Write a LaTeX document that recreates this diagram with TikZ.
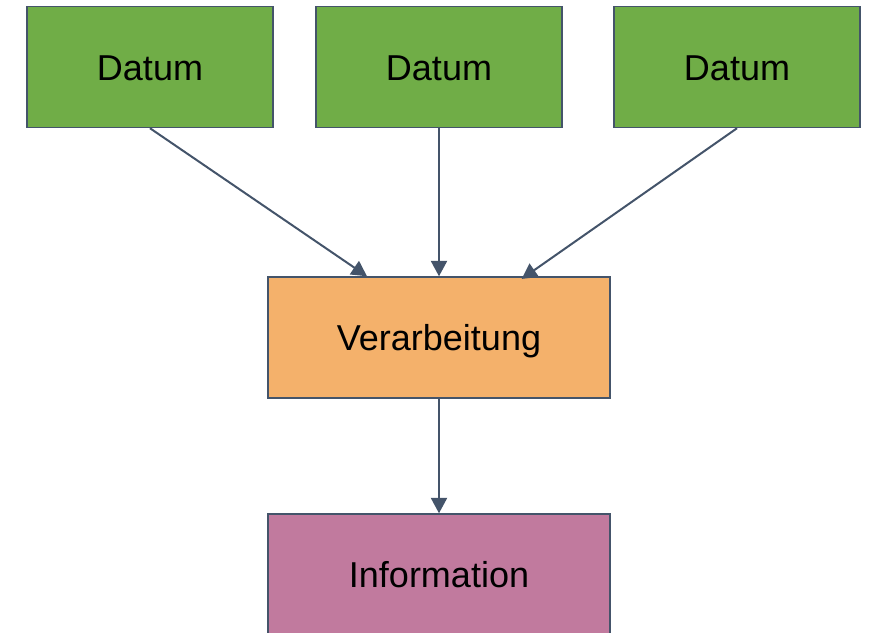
\documentclass[tikz,border=0pt]{standalone}
\usepackage{fontspec}
\setmainfont{Liberation Sans}
\usetikzlibrary{arrows.meta}
\definecolor{edgecol}{HTML}{44546A}
\definecolor{datagreen}{HTML}{70AD47}
\definecolor{procorange}{HTML}{F4B16B}
\definecolor{infopink}{HTML}{C17A9E}
\tikzset{
  box/.style={draw=edgecol, line width=1.1pt, minimum width=184.5pt, minimum height=90.75pt, inner sep=0pt, text height=19.5pt, text depth=0pt, font=\fontsize{27}{32}\selectfont, text=black},
  wide/.style={minimum width=256.5pt},
  conn/.style={draw=edgecol, line width=1.5pt, -{Triangle[length=11.5pt,width=12pt]}}
}
\begin{document}
\begin{tikzpicture}[x=0.75pt,y=-0.75pt]
\useasboundingbox (0,0) rectangle (871,632);
\begin{scope}
\clip (0,0) rectangle (871,632);
\node[box, fill=datagreen] (d1) at (150,67) {Datum};
\node[box, fill=datagreen] (d2) at (439,67) {Datum};
\node[box, fill=datagreen] (d3) at (737,67) {Datum};
\node[box, wide, fill=procorange] (v) at (439,337.5) {Verarbeitung};
\node[box, wide, fill=infopink] (i) at (439,574.5) {Information};
\draw[conn] (d1.south) -- ([xshift=-54pt]v.north);
\draw[conn] (d2.south) -- (v.north);
\draw[conn] (d3.south) -- ([xshift=62pt,yshift=-2pt]v.north);
\draw[conn] (v.south) -- (i.north);
\end{scope}
\end{tikzpicture}
\end{document}
